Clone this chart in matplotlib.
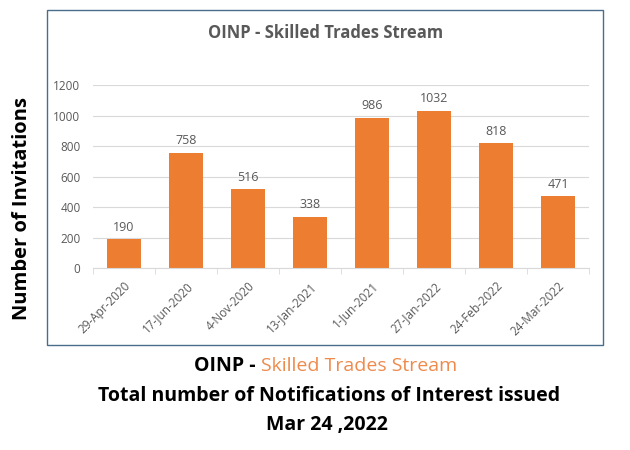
import matplotlib.pyplot as plt
from matplotlib.patches import Rectangle

# Data
dates = ['29-Apr-2020', '17-Jun-2020', '4-Nov-2020', '13-Jan-2021',
         '1-Jun-2021', '27-Jan-2022', '24-Feb-2022', '24-Mar-2022']
invites = [190, 758, 516, 338, 986, 1032, 818, 471]
yticks = [0, 200, 400, 600, 800, 1000, 1200]

plt.rcParams['font.family'] = ['Open Sans', 'DejaVu Sans']

bar_color = '#ED7D31'
grey = '#595959'

fig = plt.figure(figsize=(6.3, 4.5), dpi=100)

# Chart frame
frame = Rectangle((0.0746, 0.233), 0.957 - 0.0746, 0.978 - 0.233,
                  transform=fig.transFigure, fill=False,
                  edgecolor='#4a6d8c', linewidth=1.0)
fig.patches.append(frame)

ax = fig.add_axes([0.1476, 0.404, 0.935 - 0.1476, 0.811 - 0.404])
x = range(len(dates))
ax.bar(x, invites, width=0.56, color=bar_color, zorder=2)

for xi, v in zip(x, invites):
    ax.text(xi, v + 35, str(v), ha='center', va='bottom',
            fontsize=9, color=grey)

ax.set_ylim(0, 1200)
ax.set_xlim(-0.5, len(dates) - 0.5)
ax.set_yticks(yticks)
ax.set_yticklabels([str(t) for t in yticks], fontsize=8.5, color=grey)
ax.set_xticks(list(x))
ax.set_xticklabels(dates, rotation=45, ha='right', rotation_mode='anchor',
                   fontsize=8.5, color=grey)
ax.set_xticks([i - 0.5 for i in range(len(dates) + 1)], minor=True)
ax.tick_params(axis='y', length=0, pad=9)
ax.tick_params(axis='x', which='major', length=0, pad=8)
ax.tick_params(axis='x', which='minor', length=4, color='#d9d9d9')
ax.grid(axis='y', color='#d9d9d9', linewidth=0.8, zorder=0)
for s in ['top', 'right', 'left']:
    ax.spines[s].set_visible(False)
ax.spines['bottom'].set_color('#d9d9d9')

# Titles
fig.text(0.517, 0.927, 'OINP - Skilled Trades Stream', ha='center', va='center',
         fontsize=12, fontweight='bold', color=grey)

fig.text(0.035, 1 - 208 / 450, 'Number of Invitations', rotation=90,
         ha='center', va='center', fontsize=14.5, fontweight='bold',
         color='black')

fig.text(256 / 630, 1 - 366 / 450, 'OINP -', ha='right', va='center',
         fontsize=14, fontweight='bold', color='black')
fig.text(261 / 630, 1 - 366 / 450, 'Skilled Trades Stream', ha='left',
         va='center', fontsize=14, color='#EE8A4C')
fig.text(329 / 630, 1 - 396 / 450,
         'Total number of Notifications of Interest issued', ha='center',
         va='center', fontsize=14, fontweight='bold', color='black')
fig.text(327 / 630, 1 - 425 / 450, 'Mar 24 ,2022', ha='center', va='center',
         fontsize=14, fontweight='bold', color='black')

fig.savefig('out.png', dpi=100, facecolor='white')
